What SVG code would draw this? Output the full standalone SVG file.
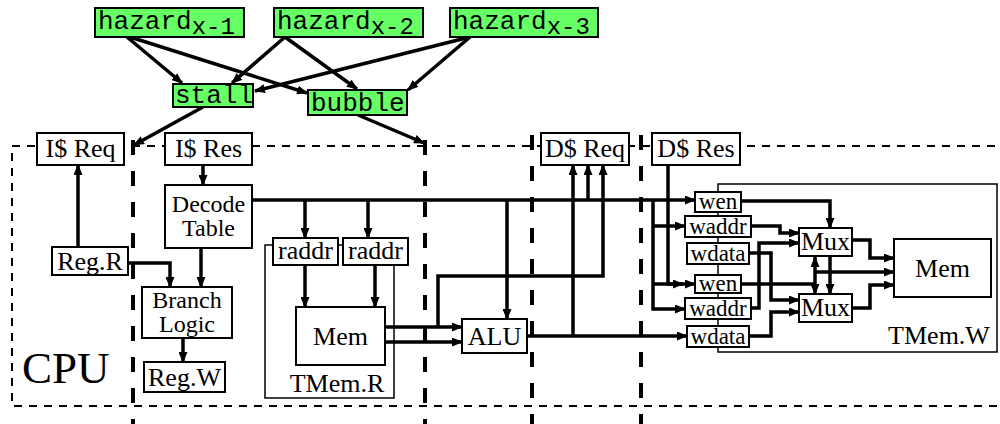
<svg xmlns="http://www.w3.org/2000/svg" width="1000" height="424" viewBox="0 0 1000 424">
<defs>
<marker id="ah" viewBox="0 0 11 9" markerWidth="11" markerHeight="9" refX="10" refY="4.5" orient="auto-start-reverse" markerUnits="userSpaceOnUse">
<path d="M0,0 L11,4.5 L0,9 z" fill="#000"/>
</marker>
<style>
.bx{fill:#fff;stroke:#000;stroke-width:2}
.hz{fill:#66ff66;stroke:#000;stroke-width:2}
.ct{fill:none;stroke:#000;stroke-width:1.5}
.t{font-family:"Liberation Serif","Times New Roman",serif;font-size:26px;fill:#000;text-anchor:middle}
.t2{font-family:"Liberation Serif","Times New Roman",serif;font-size:24px;fill:#000;text-anchor:middle}
.ts{font-family:"Liberation Serif","Times New Roman",serif;font-size:23px;fill:#000;text-anchor:middle}
.m{font-family:"Liberation Mono","Courier New",monospace;font-size:26px;fill:#000}
.w{fill:none;stroke:#000;stroke-width:3.5}
.a{fill:none;stroke:#000;stroke-width:3.5;marker-end:url(#ah)}
.thin{fill:none;stroke:#000;stroke-width:2;stroke-dasharray:8 7}
.thick{fill:none;stroke:#000;stroke-width:4;stroke-dasharray:15 16}
</style>
</defs>

<g id="stage-boundaries">
<rect x="12" y="146" width="1000" height="260" class="thin"/>
<line x1="133" y1="140" x2="133" y2="424" class="thick"/>
<line x1="425" y1="140" x2="425" y2="424" class="thick"/>
<line x1="532" y1="135" x2="532" y2="424" class="thick"/>
<line x1="641" y1="135" x2="641" y2="424" class="thick"/>
</g>

<g id="TMemR-container"><rect x="265" y="245" width="129" height="153" class="ct"/><text x="337" y="392" class="t">TMem.R</text></g>
<g id="TMemW-container"><rect x="718" y="184" width="279" height="168" class="ct"/><text x="939" y="344" class="t">TMem.W</text></g>

<g id="connectors">
<path d="M127,37 L182,83" class="a"/>
<path d="M130,37 L307,93" class="a"/>
<path d="M285,37 L232,83" class="a"/>
<path d="M285,37 L357,89" class="a"/>
<path d="M470,37 L255,91" class="a"/>
<path d="M470,37 L408,90" class="a"/>
<path d="M203,107 L134,145" class="a"/>
<path d="M358,115 L424,143" class="a"/>

<path d="M78,247 L78,165" class="a"/>
<path d="M203,165 L203,185" class="a"/>
<path d="M128,263 L170,263 L170,287" class="a"/>
<path d="M201,248 L201,287" class="a"/>
<path d="M183,338 L183,362" class="a"/>

<path d="M252,200 L695,200" class="a"/>
<path d="M305,200 L305,238" class="a"/>
<path d="M368,200 L368,238" class="a"/>
<path d="M305,265 L305,307" class="a"/>
<path d="M375,265 L375,307" class="a"/>
<path d="M385,327 L462,327" class="a"/>
<path d="M385,342 L462,342" class="a"/>
<path d="M438,327 L438,276 L603,276 L603,165" class="a"/>
<path d="M507,200 L507,319" class="a"/>
<path d="M527,336 L687,336" class="a"/>
<path d="M573,336 L573,165" class="a"/>
<path d="M588,200 L588,165" class="a"/>

<path d="M668,165 L668,284 L683,284" class="a"/>
<path d="M653,200 L653,309 L685,309" class="a"/>
<path d="M653,226 L685,226" class="a"/>
<path d="M653,284 L695,284" class="a"/>

<path d="M741,201 L830,201 L830,228" class="a"/>
<path d="M830,256 L830,294" class="a"/>
<path d="M751,226 L780,226 L780,233 L799,233" class="a"/>
<path d="M751,308 L759,308 L759,243 L799,243" class="a"/>
<path d="M749,253 L771,253 L771,300 L799,300" class="a"/>
<path d="M749,336 L771,336 L771,312 L799,312" class="a"/>
<path d="M741,284 L815,284" class="w"/>
<path d="M815,257 L815,294" class="a" marker-start="url(#ah)"/>
<path d="M815,272 L894,272" class="a"/>
<path d="M852,240 L870,240 L870,258 L894,258" class="a"/>
<path d="M852,308 L870,308 L870,285 L894,285" class="a"/>
</g>

<g id="hazard1"><rect x="95" y="8" width="149" height="29" class="hz"/><text x="98" y="29" class="m">hazard<tspan font-size="24" dy="5">x-1</tspan></text></g>
<g id="hazard2"><rect x="274" y="8" width="149" height="29" class="hz"/><text x="277" y="29" class="m">hazard<tspan font-size="24" dy="5">x-2</tspan></text></g>
<g id="hazard3"><rect x="450" y="8" width="148" height="29" class="hz"/><text x="453" y="29" class="m">hazard<tspan font-size="24" dy="5">x-3</tspan></text></g>
<g id="stall"><rect x="173" y="84" width="80" height="23" class="hz"/><text x="175" y="103" class="m">stall</text></g>
<g id="bubble"><rect x="308" y="90" width="99" height="25" class="hz"/><text x="311" y="111" class="m">bubble</text></g>

<g id="IReq"><rect x="37" y="133" width="87" height="32" class="bx"/><text x="80.5" y="157" class="t">I$ Req</text></g>
<g id="IRes"><rect x="165" y="133" width="87" height="32" class="bx"/><text x="208.5" y="157" class="t">I$ Res</text></g>
<g id="Decode"><rect x="165" y="185" width="87" height="63" class="bx"/><text x="208.5" y="212" class="t2">Decode</text><text x="208.5" y="236" class="t2">Table</text></g>
<g id="RegR"><rect x="52" y="247" width="76" height="28" class="bx"/><text x="90" y="270" class="t">Reg.R</text></g>
<g id="Branch"><rect x="142" y="287" width="90" height="51" class="bx"/><text x="187" y="308" class="t2">Branch</text><text x="187" y="332" class="t2">Logic</text></g>
<g id="RegW"><rect x="144" y="362" width="81" height="30" class="bx"/><text x="184.5" y="386" class="t">Reg.W</text></g>
<text x="22" y="383" style="font-family:'Liberation Serif','Times New Roman',serif;font-size:45px">CPU</text>

<g id="raddr1"><rect x="273" y="238" width="65" height="27" class="bx"/><text x="305.5" y="259" class="t">raddr</text></g>
<g id="raddr2"><rect x="343" y="238" width="65" height="27" class="bx"/><text x="375.5" y="259" class="t">raddr</text></g>
<g id="MemR"><rect x="296" y="307" width="89" height="58" class="bx"/><text x="340.5" y="345" class="t">Mem</text></g>
<g id="ALU"><rect x="462" y="319" width="65" height="34" class="bx"/><text x="494.5" y="345" class="t">ALU</text></g>
<g id="DReq"><rect x="541" y="133" width="88" height="32" class="bx"/><text x="585" y="157" class="t">D$ Req</text></g>
<g id="DRes"><rect x="652" y="133" width="88" height="32" class="bx"/><text x="696" y="157" class="t">D$ Res</text></g>

<g id="wen1"><rect x="695" y="192" width="46" height="20" class="bx"/><text x="718" y="209" class="ts">wen</text></g>
<g id="waddr1"><rect x="685" y="216" width="66" height="21" class="bx"/><text x="718" y="234" class="ts">waddr</text></g>
<g id="wdata1"><rect x="687" y="243" width="62" height="21" class="bx"/><text x="718" y="261" class="ts">wdata</text></g>
<g id="wen2"><rect x="695" y="275" width="46" height="18" class="bx"/><text x="718" y="291" class="ts">wen</text></g>
<g id="waddr2"><rect x="685" y="298" width="66" height="21" class="bx"/><text x="718" y="316" class="ts">waddr</text></g>
<g id="wdata2"><rect x="687" y="326" width="62" height="21" class="bx"/><text x="718" y="344" class="ts">wdata</text></g>
<g id="Mux1"><rect x="799" y="228" width="53" height="28" class="bx"/><text x="825.5" y="250" class="t">Mux</text></g>
<g id="Mux2"><rect x="799" y="294" width="53" height="28" class="bx"/><text x="825.5" y="316" class="t">Mux</text></g>
<g id="MemW"><rect x="894" y="239" width="97" height="58" class="bx"/><text x="942.5" y="277" class="t">Mem</text></g>
</svg>
